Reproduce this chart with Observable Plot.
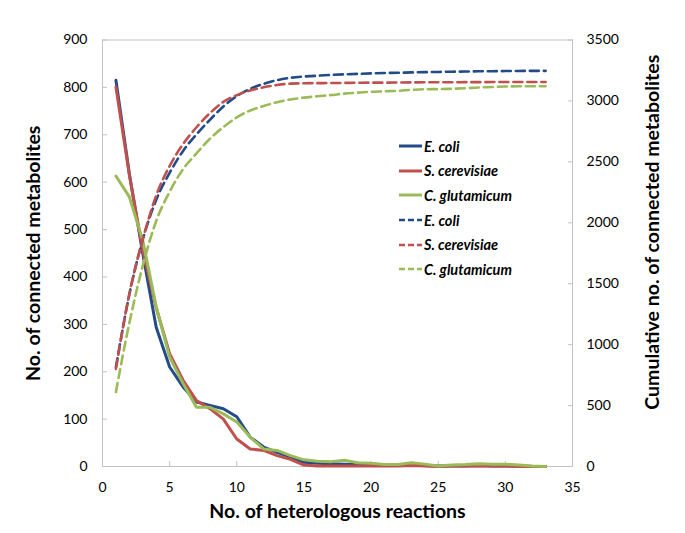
<!DOCTYPE html>
<html>
<head>
<meta charset="utf-8">
<script src="https://cdn.jsdelivr.net/npm/d3@7"></script>
<script src="https://cdn.jsdelivr.net/npm/@observablehq/plot@0.6"></script>
<style>
  body { margin: 0; background: #fff; }
  #wrap { position: relative; width: 685px; height: 533px; font-family: Lato, "Open Sans", sans-serif; }
  #legend { position: absolute; left: 399px; top: 134px; }
  .row { display: flex; align-items: center; height: 24.6px; }
  .row span { font-weight: bold; font-style: italic; font-size: 14.5px; color: #000; margin-left: 2px; }
</style>
</head>
<body>
<div id="wrap"><div id="chart"></div><div id="legend"></div></div>
<script>
// x: number of heterologous reactions
const reactions = [1,2,3,4,5,6,7,8,9,10,11,12,13,14,15,16,17,18,19,20,21,22,23,24,25,26,27,28,29,30,31,32,33];

// Left axis: No. of connected metabolites
const ecoli      = [815,618,449,294,210,168,136,129,122,105,62,41,30,20,9,7,6,5,4,3,3,2,3,2,1,1,1,2,1,1,1,0,0];
const scerevisiae= [801,615,456,335,238,182,139,122,100,58,37,34,23,15,3,1,1,1,1,1,1,1,2,1,0,1,1,1,1,1,0,0,0];
const cglutamicum= [613,569,477,337,231,175,125,125,111,94,62,37,34,23,14,11,10,13,8,7,4,4,8,5,1,3,4,6,5,5,3,1,0];

// Right axis: Cumulative no. of connected metabolites
const ecoliCum      = [815,1412,1863,2188,2410,2590,2726,2845,2954,3040,3099,3140,3170,3190,3200,3207,3213,3218,3222,3226,3229,3231,3234,3236,3238,3240,3241,3243,3244,3245,3246,3247,3247];
const scerevisiaeCum= [801,1418,1865,2224,2466,2646,2784,2900,2992,3047,3086,3112,3130,3142,3145,3146,3147,3148,3149,3150,3150,3151,3152,3153,3153,3153,3154,3154,3155,3155,3155,3155,3155];
const cglutamicumCum= [612,1178,1648,2015,2255,2440,2570,2690,2785,2865,2922,2958,2990,3012,3027,3038,3048,3060,3068,3075,3079,3083,3091,3096,3097,3100,3104,3110,3114,3118,3120,3121,3121];

const names  = ["E. coli", "S. cerevisiae", "C. glutamicum"];
const colors = ["#234b87", "#c0504d", "#9bbb59"];

const xTicks     = [0,5,10,15,20,25,30,35];
const leftTicks  = [0,100,200,300,400,500,600,700,800,900];
const rightTicks = [0,500,1000,1500,2000,2500,3000,3500];

const leftMax = 900, rightMax = 3500;
const k = leftMax / rightMax;

const solidSeries = [ecoli, scerevisiae, cglutamicum];
const cumSeries   = [ecoliCum, scerevisiaeCum, cglutamicumCum];

const toRows = (vals, scale) => reactions.map((r, i) => ({x: r, y: vals[i] * scale}));

const axisGray = "#c3c3c3";
const titleFont = {fontSize: 19.5, fontWeight: "bold", textAnchor: "middle", lineAnchor: "middle"};
const marks = [
  Plot.frame({stroke: axisGray}),
  Plot.axisX(xTicks, {tickSize: 0, tickPadding: 16, label: null, fontSize: 14}),
  Plot.axisX(xTicks, {tickSize: 5, dy: -5, tickFormat: () => "", stroke: axisGray, label: null}),
  Plot.axisY(leftTicks, {anchor: "left", tickSize: 0, tickPadding: 15, label: null, fontSize: 14}),
  Plot.axisY(leftTicks, {anchor: "left", tickSize: 5, dx: 5, tickFormat: () => "", stroke: axisGray, label: null}),
  Plot.axisY(rightTicks.map(v => v * k), {anchor: "right", tickSize: 0, tickPadding: 14, label: null, fontSize: 14,
    tickFormat: d => String(Math.round(d / k))}),
  Plot.axisY(rightTicks.map(v => v * k), {anchor: "right", tickSize: 5, dx: -5, tickFormat: () => "", stroke: axisGray, label: null}),
];
solidSeries.forEach((vals, i) => {
  marks.push(Plot.line(toRows(vals, 1), {x: "x", y: "y", stroke: colors[i], strokeWidth: 3, strokeLinejoin: "round"}));
});
cumSeries.forEach((vals, i) => {
  marks.push(Plot.line(toRows(vals, k), {x: "x", y: "y", stroke: colors[i], strokeWidth: 2.6, strokeDasharray: "9,5", curve: "monotone-x"}));
});
marks.push(
  Plot.text(["No. of heterologous reactions"], {frameAnchor: "bottom", dy: 45, ...titleFont}),
  Plot.text(["No. of connected metabolites"], {frameAnchor: "left", dx: -69, rotate: -90, ...titleFont}),
  Plot.text(["Cumulative no. of connected metabolites"], {frameAnchor: "right", dx: 80, dy: -21, rotate: -90, ...titleFont})
);

const chart = Plot.plot({
  width: 685,
  height: 533,
  marginLeft: 102,
  marginRight: 113,
  marginTop: 39.5,
  marginBottom: 67,
  x: {domain: [0, 35]},
  y: {domain: [0, leftMax]},
  style: {fontFamily: "Lato, 'Open Sans', sans-serif", fontSize: "14px", color: "#000", background: "#fff"},
  marks
});
document.getElementById("chart").appendChild(chart);

// Legend
const legend = d3.select("#legend");
const legendItems = [
  ...names.map((n, i) => ({name: n, color: colors[i], dash: null})),
  ...names.map((n, i) => ({name: n, color: colors[i], dash: "6,3"}))
];
legendItems.forEach(item => {
  const row = legend.append("div").attr("class", "row");
  const svg = row.append("svg").attr("width", 23).attr("height", 10);
  svg.append("line").attr("x1", 0).attr("x2", 23).attr("y1", 5).attr("y2", 5)
    .attr("stroke", item.color).attr("stroke-width", item.dash ? 2.6 : 3)
    .attr("stroke-dasharray", item.dash);
  row.append("span").text(item.name);
});
</script>
</body>
</html>
